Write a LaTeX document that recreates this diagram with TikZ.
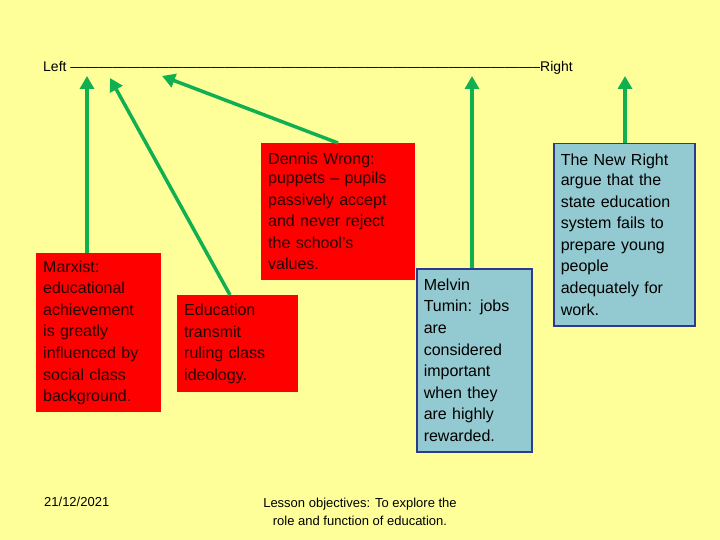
\documentclass[tikz,border=0pt]{standalone}
\usepackage{fontspec}
\setmainfont{Liberation Sans}
\definecolor{bg}{HTML}{FFFF99}
\definecolor{rbox}{HTML}{FF0000}
\definecolor{bbox}{HTML}{93C9D0}
\definecolor{bbord}{HTML}{2E3B8C}
\definecolor{grn}{HTML}{10B050}
\usetikzlibrary{arrows.meta}
\begin{document}
\begin{tikzpicture}[x=1pt,y=-1pt,
  txt/.style={font=\fontsize{16}{21.6}\selectfont,align=left,anchor=north west,inner xsep=7pt,inner ysep=4pt},
  redbox/.style={txt,fill=rbox,text=black!85!red},
  bluebox/.style={txt,fill=bbox,draw=bbord,line width=1.5pt},
  arr/.style={draw=grn,line width=3.5pt,-{Triangle[length=13pt,width=14pt]}}]
\fill[bg] (0,0) rectangle (720,540);
\node[anchor=west,font=\fontsize{14}{16}\selectfont,inner sep=0] (lr) at (43,68) {Left -----------------------------------------------------------------------------------------------------Right};
\node[redbox,text width=111pt,minimum height=159pt] (m) at (36,253) {Marxist:\\educational\\achievement\\is greatly\\influenced by\\social class\\background.};
\node[redbox,text width=107pt,minimum height=97pt] (e) at (177,295) {Education\\transmit\\ruling class\\ideology.};
\node[redbox,text width=140pt,minimum height=137pt,anchor=north west] (d) at (261,143) {\vspace{-3pt}Dennis Wrong:\\puppets -- pupils\\passively accept\\and never reject\\the school’s\\values.\\[8pt]};
\node[bluebox,text width=101pt,minimum height=183pt] (t) at (416,268) {Melvin\\Tumin: jobs\\are\\considered\\important\\when they\\are highly\\rewarded.};
\node[bluebox,text width=127pt,minimum height=182pt] (n) at (553,143) {\vspace{-2pt}The New Right\\argue that the\\state education\\system fails to\\prepare young\\people\\adequately for\\work.\\[30pt]};
\coordinate (a1) at (87,76);
\coordinate (a2) at (110,78);
\coordinate (a3) at (162,76);
\coordinate (a4) at (472,76);
\coordinate (a5) at (625,76);
\draw[arr] (m.north -| a1) -- (a1);
\draw[arr] (230,295) -- (a2);
\draw[arr] (338,143) -- (a3);
\draw[arr] (t.north -| a4) -- (a4);
\draw[arr] (n.north -| a5) -- (a5);
\node[anchor=west,font=\fontsize{13}{16}\selectfont,inner sep=0] (dt) at (44,502) {21/12/2021};
\node[font=\fontsize{13}{18}\selectfont,align=center,inner sep=0] (lo) at (360,512) {Lesson objectives: To explore the\\role and function of education.};
\end{tikzpicture}
\end{document}
